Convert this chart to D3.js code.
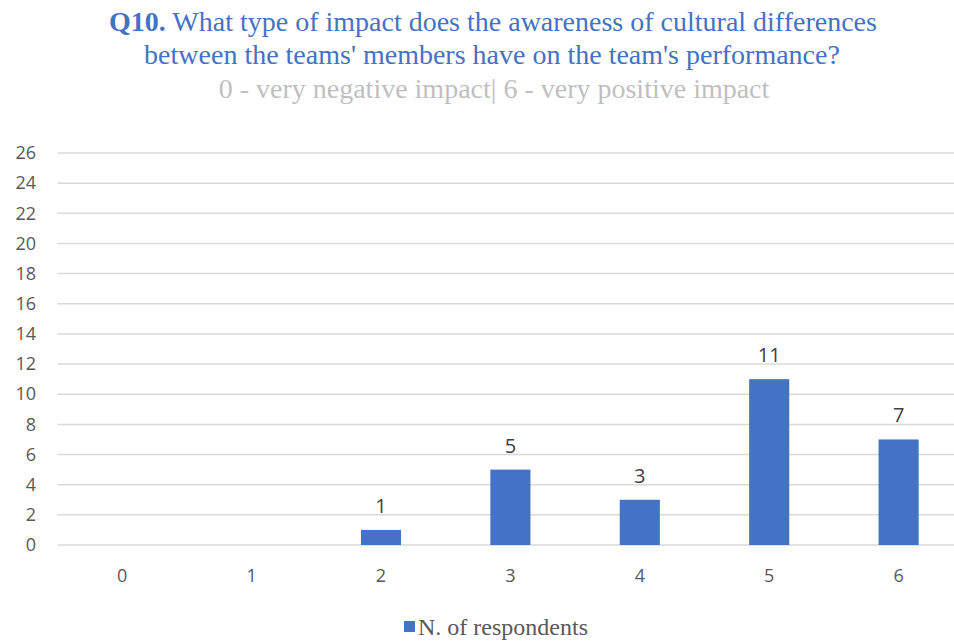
<!DOCTYPE html>
<html>
<head>
<meta charset="utf-8">
<script src="https://cdn.jsdelivr.net/npm/d3@7"></script>
<style>
  html, body { margin: 0; padding: 0; background: #fff; }
  svg { display: block; }
</style>
</head>
<body>
<svg id="chart" width="954" height="642"></svg>
<script>
// Survey answers on a 0–6 scale
const categories = ["0", "1", "2", "3", "4", "5", "6"];
const respondents = [0, 0, 1, 5, 3, 11, 7];
const yTicks = [0, 2, 4, 6, 8, 10, 12, 14, 16, 18, 20, 22, 24, 26];
const seriesName = "N. of respondents";

const svg = d3.select("#chart");
const W = 954, H = 642;

const serif = "'Liberation Serif', 'DejaVu Serif', serif";
const sans = "'Open Sans', 'Liberation Sans', sans-serif";

const x = d3.scaleBand().domain(categories).range([57.5, 963.3]).padding(0);
const y = d3.scaleLinear().domain([0, 26]).range([545, 153]);
const barW = x.bandwidth() * 0.31;

// Title
const title = svg.append("text")
  .attr("text-anchor", "middle")
  .attr("font-family", serif)
  .attr("font-size", 28)
  .attr("fill", "#4472C4");
const l1 = title.append("tspan").attr("x", 493).attr("y", 31);
l1.append("tspan").attr("font-weight", "bold").text("Q10.");
l1.append("tspan").text(" What type of impact does the awareness of cultural differences");
title.append("tspan").attr("x", 492).attr("y", 64)
  .text("between the teams' members have on the team's performance?");

svg.append("text")
  .attr("x", 494).attr("y", 98)
  .attr("text-anchor", "middle")
  .attr("font-family", serif)
  .attr("font-size", 28)
  .attr("fill", "#BFBFBF")
  .text("0 - very negative impact| 6 - very positive impact");

// Gridlines
svg.append("g")
  .selectAll("line")
  .data(yTicks)
  .join("line")
  .attr("x1", 57.5).attr("x2", W)
  .attr("y1", d => y(d)).attr("y2", d => y(d))
  .attr("stroke", "#D9D9D9")
  .attr("stroke-width", 1.5);

// Y axis labels
const yAxis = svg.append("g")
  .attr("transform", "translate(36,0)")
  .call(d3.axisLeft(y).tickValues(yTicks).tickSize(0).tickPadding(0));
yAxis.select(".domain").remove();
yAxis.selectAll("text")
  .attr("font-family", sans)
  .attr("font-size", 18)
  .attr("fill", "#595959");

// X axis labels
const xAxis = svg.append("g")
  .attr("transform", "translate(0,569)")
  .call(d3.axisBottom(x).tickSize(0).tickPadding(0));
xAxis.select(".domain").remove();
xAxis.selectAll("text")
  .attr("font-family", sans)
  .attr("font-size", 18)
  .attr("fill", "#595959");

// Bars
const data = categories.map((c, i) => ({ c, v: respondents[i] }));
svg.append("g")
  .selectAll("rect")
  .data(data.filter(d => d.v > 0))
  .join("rect")
  .attr("x", d => x(d.c) + x.bandwidth() / 2 - barW / 2)
  .attr("y", d => y(d.v))
  .attr("width", barW)
  .attr("height", d => y(0) - y(d.v))
  .attr("fill", "#4472C4");

// Value labels
svg.append("g")
  .selectAll("text")
  .data(data.filter(d => d.v > 0))
  .join("text")
  .attr("x", d => x(d.c) + x.bandwidth() / 2)
  .attr("y", d => y(d.v) - 17)
  .attr("text-anchor", "middle")
  .attr("font-family", sans)
  .attr("font-size", 20)
  .attr("fill", "#404040")
  .text(d => d.v);

// Legend
const legend = svg.append("g");
legend.append("rect")
  .attr("x", 404).attr("y", 621)
  .attr("width", 11).attr("height", 11)
  .attr("fill", "#4472C4");
legend.append("text")
  .attr("x", 418).attr("y", 635)
  .attr("font-family", serif)
  .attr("font-size", 24)
  .attr("fill", "#595959")
  .text(seriesName);
</script>
</body>
</html>
